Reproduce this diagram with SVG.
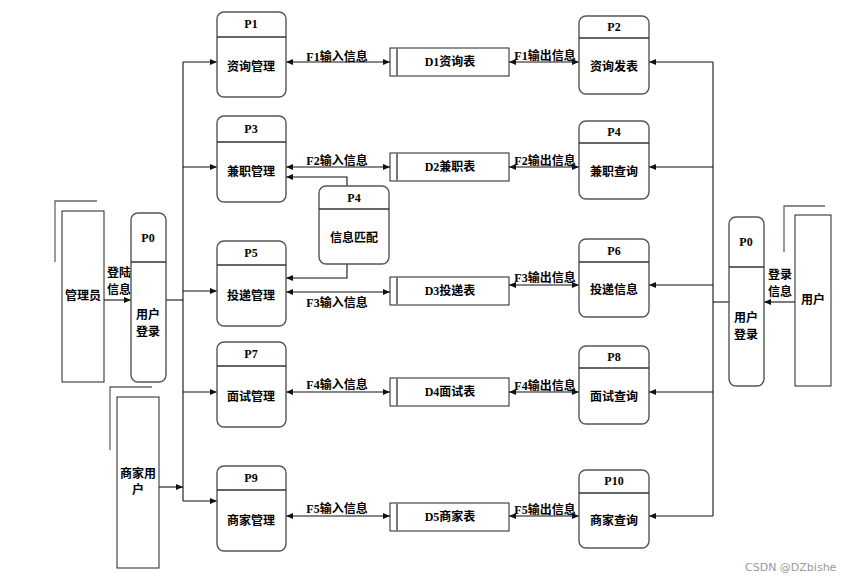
<svg xmlns="http://www.w3.org/2000/svg" width="855" height="582" viewBox="0 0 855 582">
<style>
.bg{fill:#fff}
.proc{fill:#fff;stroke:#555;stroke-width:1.4}
.hdr{stroke:#333;stroke-width:1.3}
.store{fill:#fff;stroke:#222;stroke-width:1}
.sbar{stroke:#777;stroke-width:2}
.ent{fill:#fff;stroke:#222;stroke-width:1}
.shadow{fill:none;stroke:#666;stroke-width:1.3}
.ln{fill:none;stroke:#111;stroke-width:1.1}
.t{font-family:"Liberation Serif","Noto Sans CJK SC",serif;font-weight:bold;font-size:12px;fill:#000;text-anchor:middle}
.ts{font-family:"Liberation Serif","Noto Sans CJK SC",serif;font-weight:bold;font-size:12px;fill:#000;text-anchor:start}
.wm{font-family:"DejaVu Sans","Liberation Sans",sans-serif;font-size:11px;fill:#999}
</style>
<defs>
<marker id="ah" markerUnits="userSpaceOnUse" markerWidth="8" markerHeight="8" viewBox="0 0 8 8" refX="7" refY="4" orient="auto-start-reverse">
<path d="M0,1 L7,4 L0,7 Z" fill="#111"/>
</marker>
</defs>
<rect class="bg" x="0" y="0" width="855" height="582"/>

<g id="connectors">
<path class="ln" d="M183 62 V501"/>
<path class="ln" d="M183 62 H217" marker-end="url(#ah)"/>
<path class="ln" d="M183 167 H217" marker-end="url(#ah)"/>
<path class="ln" d="M183 291 H217" marker-end="url(#ah)"/>
<path class="ln" d="M183 392 H217" marker-end="url(#ah)"/>
<path class="ln" d="M183 501 H217" marker-end="url(#ah)"/>
<path class="ln" d="M166 300 H183"/>
<path class="ln" d="M104 300 H131" marker-end="url(#ah)"/>
<path class="ln" d="M159 487 H183" marker-end="url(#ah)"/>

<path class="ln" d="M286 62 H390" marker-start="url(#ah)" marker-end="url(#ah)"/>
<path class="ln" d="M509 62 H579" marker-start="url(#ah)" marker-end="url(#ah)"/>
<path class="ln" d="M286 167 H390" marker-start="url(#ah)" marker-end="url(#ah)"/>
<path class="ln" d="M509 167 H579" marker-start="url(#ah)" marker-end="url(#ah)"/>
<path class="ln" d="M286 292 H390" marker-start="url(#ah)" marker-end="url(#ah)"/>
<path class="ln" d="M509 285 H579" marker-start="url(#ah)" marker-end="url(#ah)"/>
<path class="ln" d="M286 392 H390" marker-start="url(#ah)" marker-end="url(#ah)"/>
<path class="ln" d="M509 392 H579" marker-start="url(#ah)" marker-end="url(#ah)"/>
<path class="ln" d="M286 516 H390" marker-start="url(#ah)" marker-end="url(#ah)"/>
<path class="ln" d="M509 516 H579" marker-start="url(#ah)" marker-end="url(#ah)"/>

<path class="ln" d="M347 186 V177 H286" marker-end="url(#ah)"/>
<path class="ln" d="M347 264 V278 H286" marker-end="url(#ah)"/>

<path class="ln" d="M713 62 V516"/>
<path class="ln" d="M713 62 H649" marker-end="url(#ah)"/>
<path class="ln" d="M713 167 H649" marker-end="url(#ah)"/>
<path class="ln" d="M713 285 H649" marker-end="url(#ah)"/>
<path class="ln" d="M713 392 H649" marker-end="url(#ah)"/>
<path class="ln" d="M713 516 H649" marker-end="url(#ah)"/>
<path class="ln" d="M713 302 H729"/>
<path class="ln" d="M795 302 H764" marker-end="url(#ah)"/>

<text class="t" x="337" y="61">F1输入信息</text>
<text class="t" x="545" y="60">F1输出信息</text>
<text class="t" x="337" y="165">F2输入信息</text>
<text class="t" x="545" y="165">F2输出信息</text>
<text class="t" x="337" y="307">F3输入信息</text>
<text class="t" x="545" y="282">F3输出信息</text>
<text class="t" x="337" y="389">F4输入信息</text>
<text class="t" x="545" y="390">F4输出信息</text>
<text class="t" x="337" y="513">F5输入信息</text>
<text class="t" x="545" y="514">F5输出信息</text>
<text class="ts" x="107" y="277">登陆</text>
<text class="ts" x="107" y="294">信息</text>
<text class="ts" x="768" y="279">登录</text>
<text class="ts" x="768" y="296">信息</text>
</g>

<g id="manager">
<path class="shadow" d="M55 262 V201 H97"/>
<rect class="ent" x="62" y="211" width="42" height="171"/>
<text class="t" x="83" y="300">管理员</text>
</g>

<g id="merchant">
<path class="shadow" d="M110 450 V387 H152"/>
<rect class="ent" x="117" y="397" width="42" height="171"/>
<text class="t" x="138" y="478">商家用</text>
<text class="t" x="138" y="494">户</text>
</g>

<g id="user">
<path class="shadow" d="M784 252 V206 H825"/>
<rect class="ent" x="795" y="215" width="36" height="171"/>
<text class="t" x="813" y="304">用户</text>
</g>

<g id="P0-left">
<rect class="proc" x="131" y="213" width="35" height="169" rx="7"/>
<line class="hdr" x1="131" y1="262" x2="166" y2="262"/>
<text class="t" x="148" y="242">P0</text>
<text class="t" x="148" y="319">用户</text>
<text class="t" x="148" y="336">登录</text>
</g>

<g id="P0-right">
<rect class="proc" x="729" y="217" width="35" height="169" rx="7"/>
<line class="hdr" x1="729" y1="267" x2="764" y2="267"/>
<text class="t" x="746" y="246">P0</text>
<text class="t" x="746" y="322">用户</text>
<text class="t" x="746" y="339">登录</text>
</g>

<g id="P1">
<rect class="proc" x="217" y="12" width="69" height="85" rx="7"/>
<line class="hdr" x1="217" y1="37" x2="286" y2="37"/>
<text class="t" x="251" y="28">P1</text>
<text class="t" x="251" y="71">资询管理</text>
</g>
<g id="P3">
<rect class="proc" x="217" y="116" width="69" height="86" rx="7"/>
<line class="hdr" x1="217" y1="142" x2="286" y2="142"/>
<text class="t" x="251" y="133">P3</text>
<text class="t" x="251" y="176">兼职管理</text>
</g>
<g id="P5">
<rect class="proc" x="217" y="241" width="69" height="85" rx="7"/>
<line class="hdr" x1="217" y1="265" x2="286" y2="265"/>
<text class="t" x="251" y="257">P5</text>
<text class="t" x="251" y="300">投递管理</text>
</g>
<g id="P7">
<rect class="proc" x="217" y="342" width="69" height="85" rx="7"/>
<line class="hdr" x1="217" y1="366" x2="286" y2="366"/>
<text class="t" x="251" y="358">P7</text>
<text class="t" x="251" y="401">面试管理</text>
</g>
<g id="P9">
<rect class="proc" x="217" y="466" width="69" height="85" rx="7"/>
<line class="hdr" x1="217" y1="490" x2="286" y2="490"/>
<text class="t" x="251" y="482">P9</text>
<text class="t" x="251" y="525">商家管理</text>
</g>

<g id="P4-match">
<rect class="proc" x="319" y="186" width="70" height="78" rx="7"/>
<line class="hdr" x1="319" y1="209" x2="389" y2="209"/>
<text class="t" x="354" y="202">P4</text>
<text class="t" x="354" y="242">信息匹配</text>
</g>

<g id="P2">
<rect class="proc" x="579" y="16" width="70" height="78" rx="7"/>
<line class="hdr" x1="579" y1="38" x2="649" y2="38"/>
<text class="t" x="614" y="31">P2</text>
<text class="t" x="614" y="71">资询发表</text>
</g>
<g id="P4">
<rect class="proc" x="579" y="121" width="70" height="78" rx="7"/>
<line class="hdr" x1="579" y1="143" x2="649" y2="143"/>
<text class="t" x="614" y="136">P4</text>
<text class="t" x="614" y="176">兼职查询</text>
</g>
<g id="P6">
<rect class="proc" x="579" y="239" width="70" height="78" rx="7"/>
<line class="hdr" x1="579" y1="262" x2="649" y2="262"/>
<text class="t" x="614" y="255">P6</text>
<text class="t" x="614" y="294">投递信息</text>
</g>
<g id="P8">
<rect class="proc" x="579" y="346" width="70" height="78" rx="7"/>
<line class="hdr" x1="579" y1="368" x2="649" y2="368"/>
<text class="t" x="614" y="361">P8</text>
<text class="t" x="614" y="401">面试查询</text>
</g>
<g id="P10">
<rect class="proc" x="579" y="470" width="70" height="78" rx="7"/>
<line class="hdr" x1="579" y1="493" x2="649" y2="493"/>
<text class="t" x="614" y="485">P10</text>
<text class="t" x="614" y="525">商家查询</text>
</g>

<g id="D1">
<rect class="store" x="390" y="48" width="119" height="28"/>
<line class="sbar" x1="397" y1="48" x2="397" y2="76"/>
<text class="t" x="450" y="66">D1资询表</text>
</g>
<g id="D2">
<rect class="store" x="390" y="153" width="119" height="28"/>
<line class="sbar" x1="397" y1="153" x2="397" y2="181"/>
<text class="t" x="450" y="171">D2兼职表</text>
</g>
<g id="D3">
<rect class="store" x="390" y="277" width="119" height="28"/>
<line class="sbar" x1="397" y1="277" x2="397" y2="305"/>
<text class="t" x="450" y="295">D3投递表</text>
</g>
<g id="D4">
<rect class="store" x="390" y="378" width="119" height="28"/>
<line class="sbar" x1="397" y1="378" x2="397" y2="406"/>
<text class="t" x="450" y="396">D4面试表</text>
</g>
<g id="D5">
<rect class="store" x="390" y="503" width="119" height="28"/>
<line class="sbar" x1="397" y1="503" x2="397" y2="531"/>
<text class="t" x="450" y="521">D5商家表</text>
</g>

<text class="wm" x="745" y="571">CSDN @DZbishe</text>
</svg>
